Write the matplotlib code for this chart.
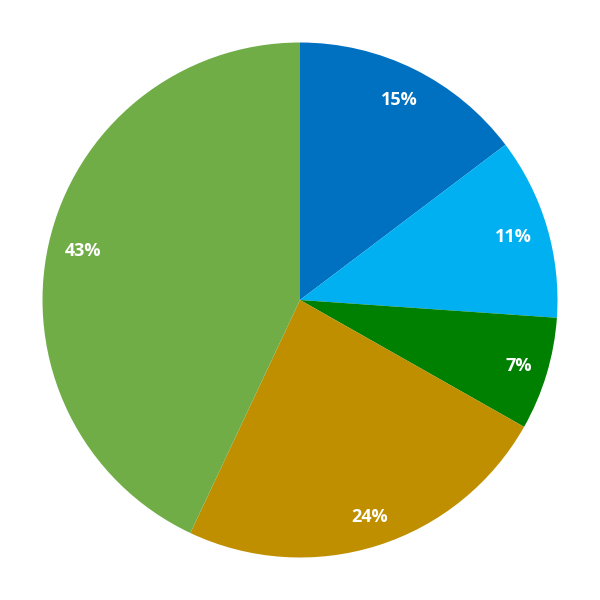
import matplotlib
matplotlib.use("Agg")
import matplotlib.pyplot as plt
import numpy as np

values = [14.7, 11.4, 7.1, 23.8, 43.0]
labels = ["15%", "11%", "7%", "24%", "43%"]
colors = ["#0070C0", "#00B0F0", "#008000", "#BF8F00", "#70AD47"]
label_dist = [0.868, 0.865, 0.887, 0.886, 0.865]

fig = plt.figure(figsize=(6, 6), dpi=100)
ax = fig.add_axes([0, 0, 1, 1])
wedges, texts = ax.pie(values, colors=colors, startangle=90, counterclock=False,
                       radius=1.0, labels=labels, labeldistance=0.86,
                       textprops=dict(color="white", fontsize=13, fontweight="bold",
                                      family=["Open Sans", "DejaVu Sans"]))
for w, t, d in zip(wedges, texts, label_dist):
    ang = np.deg2rad((w.theta1 + w.theta2) / 2)
    t.set_position((d * np.cos(ang), d * np.sin(ang)))
    t.set_ha("center")
    t.set_va("center")
lim = 300 / 257.5
ax.set_xlim(-lim, lim)
ax.set_ylim(-lim, lim)
ax.set_aspect("equal")
ax.axis("off")
fig.savefig("out.png", dpi=100)
